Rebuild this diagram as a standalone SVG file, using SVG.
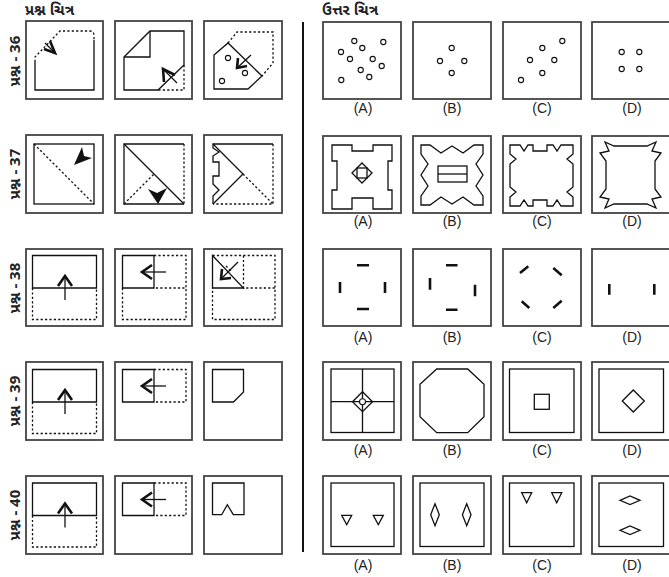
<svg xmlns="http://www.w3.org/2000/svg" width="669" height="577" viewBox="0 0 669 577">
<style>
.fr{fill:#fff;stroke:#444;stroke-width:1.8}
.s{fill:none;stroke:#111;stroke-width:1.3;stroke-linejoin:miter}
.d{fill:none;stroke:#111;stroke-width:1.3;stroke-dasharray:2.2 2.2}
.h{fill:none;stroke:#111;stroke-width:2.6}
.c{fill:#fff;stroke:#111;stroke-width:1.1}
.f{fill:#111;stroke:none}
.lb{font-family:"Liberation Sans",Arial,sans-serif;font-size:14px;text-anchor:middle;fill:#222}
.gu{font-family:"Noto Sans Gujarati","Lohit Gujarati","Noto Sans","DejaVu Sans",sans-serif;font-weight:bold;font-size:15px;fill:#222}
</style>
<defs>
<g id="fold1">
<path class="d" d="M32.5,288 V319.5 H96.5 V288"/>
<path class="s" d="M32.5,255.5 H96.5 V288 H32.5 Z"/>
<path class="s" d="M65,276 V300"/>
<path class="h" d="M58,286 L65,276 L72,286"/>
</g>
<g id="fold2">
<path class="s" d="M122.5,255.5 H154 V288 H122.5 Z"/>
<path class="d" d="M154,255.5 H186 V288 H154"/>
<path class="s" d="M142,272 H166"/>
<path class="h" d="M152,265 L142,272 L152,279"/>
</g>
</defs>

<g id="headers">
<text class="gu" x="25" y="15">પ્રશ્ન ચિત્ર</text>
<text class="gu" x="322" y="15">ઉત્તર ચિત્ર</text>
</g>
<g id="rowlabels">
<text class="gu" text-anchor="middle" transform="translate(20,61) rotate(-90)">પ્રશ્ન - 36</text>
<text class="gu" text-anchor="middle" transform="translate(20,174) rotate(-90)">પ્રશ્ન - 37</text>
<text class="gu" text-anchor="middle" transform="translate(20,288) rotate(-90)">પ્રશ્ન - 38</text>
<text class="gu" text-anchor="middle" transform="translate(20,401) rotate(-90)">પ્રશ્ન - 39</text>
<text class="gu" text-anchor="middle" transform="translate(20,515) rotate(-90)">પ્રશ્ન - 40</text>
</g>
<g id="connectors">
<line x1="303" y1="22" x2="303" y2="552" stroke="#111" stroke-width="2"/>
</g>

<!-- Row 36 questions -->
<g id="q36a">
<rect class="fr" x="26" y="21" width="77" height="78"/>
<path class="s" d="M35,62 V90 H94 V40"/>
<path class="d" d="M35,62 V57 L60,31 H90 Q94,31 94,36 V40"/>
<path class="s" d="M55,53 L45,43"/>
<path class="h" d="M44,49 L55,53 L50,41"/>
</g>
<g id="q36b">
<rect class="fr" x="115" y="21" width="77" height="78"/>
<path class="s" d="M124,57 L150,31 H184 V65 L158,90 H124 Z"/>
<path class="s" d="M124,57 H150 V31"/>
<path class="d" d="M184,65 V90 H158"/>
<path class="s" d="M163,69 L177,83"/>
<path class="h" d="M164,82 L163,69 L175,75"/>
</g>
<g id="q36c">
<rect class="fr" x="204" y="21" width="78" height="78"/>
<path class="s" d="M214,55 L228,43 L262,76 L248,89 H214 Z"/>
<path class="d" d="M228,43 L237,32 H273 V63 L262,76"/>
<circle class="c" cx="228" cy="58" r="2.6"/>
<circle class="c" cx="245" cy="73" r="2.6"/>
<circle class="c" cx="222" cy="81" r="2.6"/>
<path class="s" d="M237,68 L251,55"/>
<path class="h" d="M238,58 L237,68 L247,66"/>
</g>

<!-- Row 36 answers -->
<g id="a36a">
<rect class="fr" x="323" y="22" width="78" height="77"/>
<g class="c">
<circle cx="354.3" cy="41" r="2.6"/><circle cx="383.3" cy="42" r="2.6"/><circle cx="341" cy="52" r="2.6"/>
<circle cx="362.3" cy="48" r="2.6"/><circle cx="350" cy="59" r="2.6"/><circle cx="372.7" cy="59" r="2.6"/>
<circle cx="381.7" cy="66" r="2.6"/><circle cx="360.7" cy="70" r="2.6"/><circle cx="369.3" cy="77" r="2.6"/>
<circle cx="341.3" cy="80" r="2.6"/>
</g>
<text class="lb" x="363" y="113">(A)</text>
</g>
<g id="a36b">
<rect class="fr" x="413" y="22" width="78" height="77"/>
<g class="c">
<circle cx="451.7" cy="48" r="2.6"/><circle cx="440" cy="61" r="2.6"/><circle cx="464.3" cy="61" r="2.6"/><circle cx="451.7" cy="73" r="2.6"/>
</g>
<text class="lb" x="452" y="113">(B)</text>
</g>
<g id="a36c">
<rect class="fr" x="503" y="22" width="78" height="77"/>
<g class="c">
<circle cx="562.3" cy="41" r="2.6"/><circle cx="542.3" cy="48" r="2.6"/><circle cx="530" cy="60" r="2.6"/>
<circle cx="554.3" cy="60" r="2.6"/><circle cx="542.3" cy="73" r="2.6"/><circle cx="521" cy="80" r="2.6"/>
</g>
<text class="lb" x="542" y="113">(C)</text>
</g>
<g id="a36d">
<rect class="fr" x="592" y="22" width="78" height="77"/>
<g class="c">
<circle cx="621.7" cy="52" r="2.6"/><circle cx="639.3" cy="52" r="2.6"/><circle cx="621.7" cy="69" r="2.6"/><circle cx="639.3" cy="69" r="2.6"/>
</g>
<text class="lb" x="632" y="113">(D)</text>
</g>

<!-- Row 37 questions -->
<g id="q37a">
<rect class="fr" x="26" y="135" width="77" height="78"/>
<rect class="s" x="34" y="144" width="60" height="60"/>
<path class="d" d="M34,144 L94,204"/>
<path class="f" d="M74,165 L82,147 L84,156 L92,158 Z"/>
</g>
<g id="q37b">
<rect class="fr" x="115" y="135" width="77" height="78"/>
<path class="s" d="M184,204 H124 V144 H184"/>
<path class="d" d="M184,144 V204"/>
<path class="s" d="M124,144 L184,204"/>
<path class="d" d="M124,204 L154,174"/>
<path class="f" d="M148,189 L157,193 L167,188 L158,204 Z"/>
</g>
<g id="q37c">
<rect class="fr" x="204" y="135" width="78" height="78"/>
<path class="s" d="M213,204 V196 L219,190 L213,184 V176 H219 V162 H213 V156 L219,152 L213,148 V144 H273"/>
<path class="d" d="M273,144 V204 H213"/>
<path class="s" d="M213,144 L243,174 L213,204"/>
<path class="d" d="M243,174 L273,204"/>
</g>

<!-- Row 37 answers -->
<g id="a37a">
<rect class="fr" x="323" y="136" width="78" height="77"/>
<path class="s" d="M332,145 H352 V151 H373 V145 H392 V161 H388 V190 H392 V209 H373 V198 H352 V209 H332 V190 H337 V161 H332 Z"/>
<path class="s" d="M352,173 L362,163 L372,173 L362,183 Z"/>
<rect class="s" x="357" y="168" width="10" height="10"/>
<text class="lb" x="363" y="226">(A)</text>
</g>
<g id="a37b">
<rect class="fr" x="413" y="136" width="78" height="77"/>
<path class="s" d="M421,145 H430 L441,153 L452,146 L463,153 L474,145 H483 V154 L476,164 L483,175 L476,186 L483,196 V205 H474 L463,197 L452,204 L441,197 L430,205 H421 V196 L428,186 L421,175 L428,164 L421,154 Z"/>
<rect class="s" x="438" y="166" width="29" height="16"/>
<path class="s" d="M438,174 H467" stroke-width="2.2"/>
<text class="lb" x="452" y="226">(B)</text>
</g>
<g id="a37c">
<rect class="fr" x="503" y="136" width="78" height="77"/>
<path class="s" d="M510,145 H520 L524,151 L528,145 H533 V151 H547 V145 H553 L557,151 L561,145 H573 V154 L567,159 L573,164 V187 L567,192 L573,197 V206 H561 L557,200 L553,206 H547 V200 H533 V206 H528 L524,200 L520,206 H510 V197 L516,192 L510,187 V164 L516,159 L510,154 Z"/>
<text class="lb" x="542" y="226">(C)</text>
</g>
<g id="a37d">
<rect class="fr" x="592" y="136" width="78" height="77"/>
<path class="s" d="M614,146 H647 L656,142 L652,151 L661,153 L655,161 V189 L661,197 L652,199 L656,208 L647,204 H614 L605,208 L609,199 L600,197 L606,189 V161 L600,153 L609,151 L605,142 Z"/>
<text class="lb" x="632" y="226">(D)</text>
</g>

<!-- Row 38 questions -->
<g id="q38a">
<rect class="fr" x="26" y="249" width="77" height="77"/>
<use href="#fold1"/>
</g>
<g id="q38b">
<rect class="fr" x="115" y="249" width="77" height="77"/>
<use href="#fold2"/>
<path class="d" d="M122.5,288 V319.5 H186 V288"/>
</g>
<g id="q38c">
<rect class="fr" x="204" y="249" width="78" height="77"/>
<path class="d" d="M212.5,255.5 H275 V319.5 H212.5 V288 M243.5,255.5 V288 H275"/>
<path class="s" d="M212.5,255.5 V288 H243.5 Z"/>
<path class="s" d="M221,279 L238,262"/>
<path class="h" d="M222,269 L221,279 L231,278"/>
<path class="d" d="M226,266 L232,272" stroke-dasharray="1.5 1.5"/>
</g>

<!-- Row 38 answers -->
<g id="a38a">
<rect class="fr" x="323" y="249" width="78" height="77"/>
<path class="h" d="M357,265.3 H369 M357,309 H369 M340,282 V293 M385,282 V293"/>
<text class="lb" x="363" y="342">(A)</text>
</g>
<g id="a38b">
<rect class="fr" x="413" y="249" width="78" height="77"/>
<path class="h" d="M446,265.3 H457.5 M446,309.7 H457.5 M430,278 V289.7 M475,284.7 V296.3"/>
<text class="lb" x="452" y="342">(B)</text>
</g>
<g id="a38c">
<rect class="fr" x="503" y="249" width="78" height="77"/>
<path class="h" d="M520,273 L528.3,266.3 M553.3,268 L561.7,275.3 M521.7,301.3 L529.3,308 M553.3,308 L561.7,300.7"/>
<text class="lb" x="542" y="342">(C)</text>
</g>
<g id="a38d">
<rect class="fr" x="592" y="249" width="78" height="77"/>
<path class="h" d="M609.3,284 V294.7 M654.3,284 V294.7"/>
<text class="lb" x="632" y="342">(D)</text>
</g>

<!-- Row 39 questions -->
<g id="q39a">
<rect class="fr" x="26" y="362" width="77" height="78"/>
<use href="#fold1" transform="translate(0,114)"/>
</g>
<g id="q39b">
<rect class="fr" x="115" y="362" width="77" height="78"/>
<use href="#fold2" transform="translate(0,114)"/>
</g>
<g id="q39c">
<rect class="fr" x="204" y="362" width="78" height="78"/>
<path class="s" d="M212.5,369.5 H243.5 V392 L233.5,402 H212.5 Z"/>
</g>

<!-- Row 39 answers -->
<g id="a39a">
<rect class="fr" x="323" y="362" width="78" height="78"/>
<rect class="s" x="331" y="369" width="63" height="63.5"/>
<path class="s" d="M362.5,369 V432.5 M331,401.7 H394"/>
<path class="s" d="M352.5,401.7 L362.5,391.7 L372.5,401.7 L362.5,411.7 Z" fill="#fff"/>
<circle class="c" cx="362.5" cy="401.7" r="3"/>
<text class="lb" x="363" y="455">(A)</text>
</g>
<g id="a39b">
<rect class="fr" x="413" y="362" width="78" height="78"/>
<path class="s" d="M436.7,369 H467.7 L484,384.3 V416.7 L467.7,432.7 H436.7 L420,416.7 V384.3 Z"/>
<text class="lb" x="452" y="455">(B)</text>
</g>
<g id="a39c">
<rect class="fr" x="503" y="362" width="78" height="78"/>
<rect class="s" x="509.5" y="369" width="64.5" height="63.5"/>
<rect class="s" x="534.3" y="394.3" width="15" height="15"/>
<text class="lb" x="542" y="455">(C)</text>
</g>
<g id="a39d">
<rect class="fr" x="592" y="362" width="78" height="78"/>
<rect class="s" x="599" y="369" width="64.5" height="63.5"/>
<path class="s" d="M622.3,401 L633.3,390 L644.3,401 L633.3,412 Z"/>
<text class="lb" x="632" y="455">(D)</text>
</g>

<!-- Row 40 questions -->
<g id="q40a">
<rect class="fr" x="26" y="476" width="77" height="78"/>
<use href="#fold1" transform="translate(0,227.5)"/>
</g>
<g id="q40b">
<rect class="fr" x="115" y="476" width="77" height="78"/>
<use href="#fold2" transform="translate(0,227.5)"/>
</g>
<g id="q40c">
<rect class="fr" x="204" y="476" width="78" height="78"/>
<path class="s" d="M212.5,483 H244 V514.7 H233.3 L227.3,504.7 L221.7,514.7 H212.5 Z"/>
</g>

<!-- Row 40 answers -->
<g id="a40a">
<rect class="fr" x="323" y="476" width="78" height="78"/>
<rect class="s" x="331" y="483" width="63" height="63.5"/>
<path class="s" d="M341.7,515.3 H351.7 L346.7,524.7 Z M373.3,515.3 H383.3 L378.3,524.7 Z"/>
<text class="lb" x="363" y="570">(A)</text>
</g>
<g id="a40b">
<rect class="fr" x="413" y="476" width="78" height="78"/>
<rect class="s" x="420" y="483" width="64" height="63.5"/>
<path class="s" d="M435,503.7 L439.3,514.7 L435,525.7 L430.7,514.7 Z M466.7,503.7 L471,514.7 L466.7,525.7 L462.4,514.7 Z"/>
<text class="lb" x="452" y="570">(B)</text>
</g>
<g id="a40c">
<rect class="fr" x="503" y="476" width="78" height="78"/>
<rect class="s" x="509.5" y="483" width="64.5" height="63.5"/>
<path class="s" d="M521.7,492.7 H531.7 L526.7,502.7 Z M551.7,492.7 H561.7 L556.7,502.7 Z"/>
<text class="lb" x="542" y="570">(C)</text>
</g>
<g id="a40d">
<rect class="fr" x="592" y="476" width="78" height="78"/>
<rect class="s" x="599" y="483" width="64.5" height="63.5"/>
<path class="s" d="M620,500.3 L630,496 L640,500.3 L630,504.6 Z M620,530.3 L630,526 L640,530.3 L630,534.6 Z"/>
<text class="lb" x="632" y="570">(D)</text>
</g>
</svg>
